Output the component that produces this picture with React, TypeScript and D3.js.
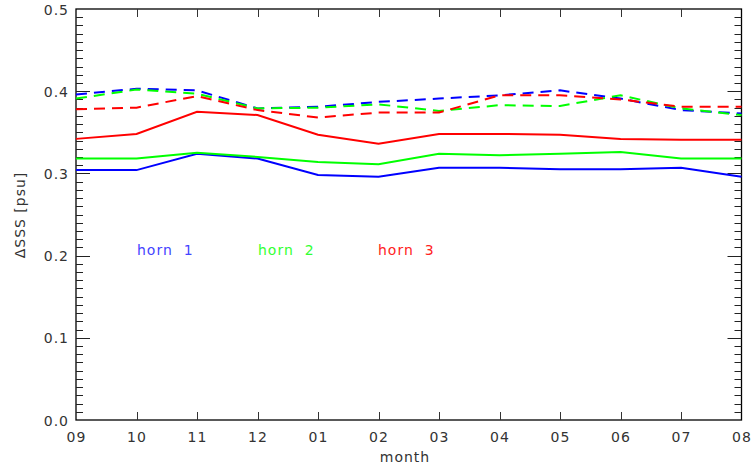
import { useEffect, useRef } from "react";
import * as d3 from "d3";

const months = ["09", "10", "11", "12", "01", "02", "03", "04", "05", "06", "07", "08"];
const yTicks = [0.0, 0.1, 0.2, 0.3, 0.4, 0.5];

// solid lines
const horn1 = [0.304, 0.304, 0.324, 0.318, 0.298, 0.296, 0.307, 0.307, 0.305, 0.305, 0.307, 0.296];
const horn2 = [0.318, 0.318, 0.325, 0.32, 0.314, 0.311, 0.324, 0.322, 0.324, 0.326, 0.318, 0.318];
const horn3 = [0.342, 0.348, 0.375, 0.371, 0.347, 0.336, 0.348, 0.348, 0.347, 0.342, 0.341, 0.341];
// dashed lines
const horn1b = [0.396, 0.403, 0.401, 0.379, 0.381, 0.387, 0.391, 0.395, 0.401, 0.391, 0.377, 0.373];
const horn2b = [0.391, 0.402, 0.397, 0.379, 0.38, 0.384, 0.376, 0.383, 0.382, 0.395, 0.379, 0.371];
const horn3b = [0.378, 0.38, 0.394, 0.377, 0.368, 0.374, 0.374, 0.395, 0.395, 0.39, 0.381, 0.381];

const series = [
  { vals: horn1, color: "#0000ff", dash: null },
  { vals: horn2, color: "#00ff00", dash: null },
  { vals: horn3, color: "#ff0000", dash: null },
  { vals: horn1b, color: "#0000ff", dash: "11,7" },
  { vals: horn2b, color: "#00ff00", dash: "11,7" },
  { vals: horn3b, color: "#ff0000", dash: "11,7" },
];

const legend = [
  { name: "horn 1", color: "#4444ff", x: 137 },
  { name: "horn 2", color: "#33ff33", x: 258 },
  { name: "horn 3", color: "#ff2222", x: 378 },
];

const W = 751;
const H = 468;
const left = 76;
const right = 741.5;
const top = 9;
const bottom = 420;
const font = "'DejaVu Sans', sans-serif";

export default function App() {
  const ref = useRef<SVGSVGElement>(null);

  useEffect(() => {
    const svg = d3.select(ref.current);
    svg.selectAll("*").remove();

    const x = d3.scaleLinear().domain([0, months.length - 1]).range([left, right]);
    const y = d3.scaleLinear().domain([0, 0.5]).range([bottom, top]);

    const g = svg.append("g");

    // frame
    g.append("rect")
      .attr("x", left)
      .attr("y", top)
      .attr("width", right - left)
      .attr("height", bottom - top)
      .attr("fill", "none")
      .attr("stroke", "#000")
      .attr("stroke-width", 1.3);

    const txt = (sel: any, size = 14) =>
      sel.attr("font-family", font).attr("font-size", size).attr("fill", "#333")
        .attr("letter-spacing", 1);

    // x ticks bottom and top
    months.forEach((m, i) => {
      const xx = Math.round(x(i)) + 0.5;
      if (i > 0 && i < months.length - 1) {
        g.append("line").attr("x1", xx).attr("x2", xx).attr("y1", bottom).attr("y2", bottom - 8)
          .attr("stroke", "#333").attr("stroke-width", 1);
        g.append("line").attr("x1", xx).attr("x2", xx).attr("y1", top).attr("y2", top + 8)
          .attr("stroke", "#333").attr("stroke-width", 1);
      }
      txt(g.append("text").attr("x", x(i) + 0.5).attr("y", 442).attr("text-anchor", "middle")).text(m);
    });

    // y ticks left and right
    d3.range(0, 51).forEach((k) => {
      const yy = Math.round(y(k / 100)) + 0.5;
      const len = k % 10 === 0 ? 14 : 7;
      if (k > 0 && k < 50) {
        g.append("line").attr("x1", left).attr("x2", left + len).attr("y1", yy).attr("y2", yy)
          .attr("stroke", "#222").attr("stroke-width", 1);
        g.append("line").attr("x1", right).attr("x2", right - len).attr("y1", yy).attr("y2", yy)
          .attr("stroke", "#222").attr("stroke-width", 1);
      }
    });
    yTicks.forEach((v) => {
      txt(g.append("text").attr("x", 69).attr("y", y(v) + 5.5).attr("text-anchor", "end")).text(v.toFixed(1));
    });

    // axis titles
    txt(g.append("text").attr("x", 405).attr("y", 462).attr("text-anchor", "middle")).text("month");
    txt(g.append("text")
      .attr("transform", `translate(25,${215}) rotate(-90)`)
      .attr("text-anchor", "middle")).text("\u0394SSS [psu]");

    // lines
    const line = d3.line<number>().x((_, i) => x(i)).y((d) => y(d));
    series.forEach((s) => {
      const p = g.append("path")
        .attr("d", line(s.vals))
        .attr("fill", "none")
        .attr("stroke", s.color)
        .attr("stroke-width", 2);
      if (s.dash) p.attr("stroke-dasharray", s.dash);
    });

    // legend labels
    legend.forEach((l) => {
      txt(g.append("text").attr("x", l.x).attr("y", 255))
        .attr("fill", l.color)
        .style("white-space", "pre")
        .text(l.name.replace(" ", "  "));
    });
  }, []);

  return (
    <svg ref={ref} width={W} height={H} style={{ position: "absolute", left: 0, top: 0, background: "#fff" }} />
  );
}
